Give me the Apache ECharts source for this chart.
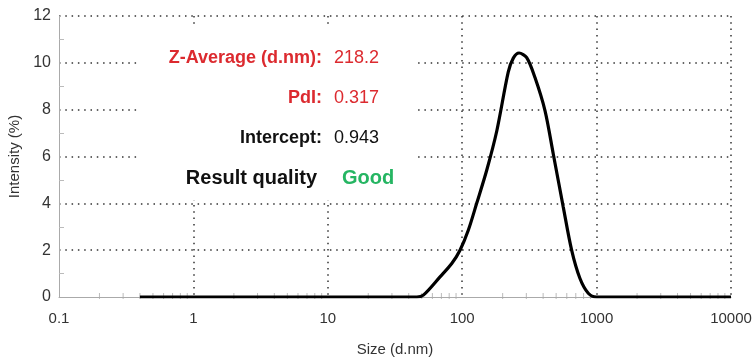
<!DOCTYPE html>
<html>
<head>
<meta charset="utf-8">
<script src="https://cdn.jsdelivr.net/npm/echarts@6/dist/echarts.min.js"></script>
<style>html,body{margin:0;padding:0;background:#fff;}#c{width:755px;height:358px;}</style>
</head>
<body>
<div id="c"></div>
<script>
const sizes = [0.4, 1, 10, 46, 51.4, 68.4, 83.6, 96.3, 111, 128, 152, 181, 220, 240, 265, 302, 348, 413, 476, 565, 652, 751, 867, 1000, 10000];
const intensity = [0, 0, 0, 0, 0.08, 0.86, 1.43, 2.0, 2.85, 3.99, 5.4, 7.1, 9.6, 10.2, 10.42, 10.22, 9.37, 7.96, 6.11, 3.84, 2.0, 0.8, 0.16, 0, 0];
const xTickLabels = ['0.1', '1', '10', '100', '1000', '10000'];
const yTicks = [0, 2, 4, 6, 8, 10, 12];
const resultLabels = ['Z-Average (d.nm):', 'PdI:', 'Intercept:', 'Result quality'];
const resultValues = ['218.2', '0.317', '0.943', 'Good'];

const FONT = '"Liberation Sans", Arial, sans-serif';
const RED = '#dc2a2f';
const GREEN = '#25b562';

// minor tick positions along the log axis (2..9 x 10^n)
const minorTicks = [];
for (let e = -1; e < 4; e++) for (let k = 2; k <= 9; k++) minorTicks.push([k * Math.pow(10, e), 0]);

const chart = echarts.init(document.getElementById('c'), null, {renderer: 'canvas'});
const dotted = {color: '#333', width: 1.5, type: [1.5, 4.8]};
const rowColors = [[RED, RED], [RED, RED], ['#111', '#111'], ['#111', GREEN]];
const rowY = [58, 98, 138, 178];
const rowSize = [18, 18, 18, 20];
const graphics = [{type: 'rect', shape: {x: 140, y: 28, width: 275, height: 172}, style: {fill: '#fff'}, z: 5, silent: true}];
resultLabels.forEach((t, i) => {
  graphics.push({type: 'text', z: 6, x: i === 3 ? 317 : 322, y: rowY[i], style: {text: t, fill: rowColors[i][0], font: 'bold ' + rowSize[i] + 'px ' + FONT, textAlign: 'right', textVerticalAlign: 'middle'}});
  graphics.push({type: 'text', z: 6, x: i === 3 ? 342 : 334, y: rowY[i], style: {text: resultValues[i], fill: rowColors[i][1], font: (i === 3 ? 'bold ' : '') + rowSize[i] + 'px ' + FONT, textAlign: 'left', textVerticalAlign: 'middle'}});
});

chart.setOption({
  animation: false,
  backgroundColor: '#fff',
  grid: {left: 59, right: 24, top: 16, bottom: 61, containLabel: false, outerBoundsMode: 'none'},
  xAxis: {
    type: 'log', logBase: 10, min: 0.1, max: 10000,
    name: 'Size (d.nm)', nameLocation: 'middle', nameGap: 45,
    nameTextStyle: {fontFamily: FONT, fontSize: 15, color: '#333'},
    axisLine: {lineStyle: {color: '#aaa', width: 1}},
    axisTick: {show: false},
    axisLabel: {fontFamily: FONT, fontSize: 15, color: '#333', margin: 14,
      formatter: v => xTickLabels[Math.round(Math.log10(v)) + 1]},
    splitLine: {show: true, showMinLine: false, showMaxLine: true, lineStyle: dotted}
  },
  yAxis: {
    type: 'value', min: 0, max: 12, interval: 2,
    name: 'Intensity (%)', nameLocation: 'middle', nameGap: 34,
    nameTextStyle: {fontFamily: FONT, fontSize: 15, color: '#333'},
    axisLine: {show: true, lineStyle: {color: '#aaa', width: 1}},
    axisTick: {show: false, inside: true, length: 5, lineStyle: {color: '#bbb'}},
    minorTick: {show: true, splitNumber: 2, length: 5, lineStyle: {color: '#bbb'}},
    axisLabel: {fontFamily: FONT, fontSize: 16, color: '#333', margin: 8,
      formatter: v => yTicks.indexOf(v) >= 0 ? String(v) : ''},
    splitLine: {show: true, showMinLine: false, lineStyle: dotted}
  },
  graphic: graphics,
  series: [
    {type: 'scatter', data: minorTicks, symbol: 'rect', symbolSize: [1, 6], symbolOffset: [0, -1],
      itemStyle: {color: '#aaa'}, silent: true, z: 1},
    {type: 'line', data: sizes.map((s, i) => [s, intensity[i]]), showSymbol: false, smooth: 0.3,
      lineStyle: {color: '#000', width: 3.2}, z: 10}
  ]
});
</script>
</body>
</html>
